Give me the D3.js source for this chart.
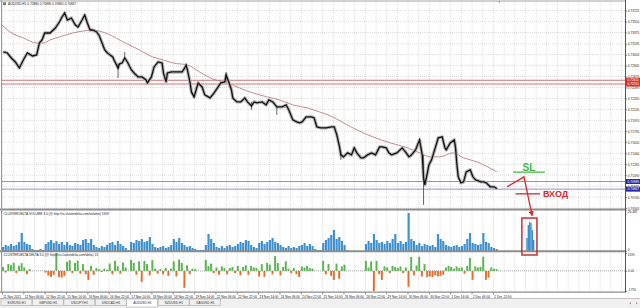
<!DOCTYPE html>
<html>
<head>
<meta charset="utf-8">
<script src="https://cdn.jsdelivr.net/npm/d3@7"></script>
<style>
  body { margin: 0; background: #fff; }
  svg { display: block; font-family: "Liberation Sans", Arial, sans-serif; }
</style>
</head>
<body>
<script>
// ---- data (AUDUSD H1) ----
var priceTicks = [0.73725, 0.73550, 0.73375, 0.73195, 0.73020, 0.72845, 0.72670, 0.72495, 0.72320, 0.72145,
    0.71970, 0.71795, 0.71620, 0.71440, 0.71265, 0.71090, 0.70915, 0.70740, 0.70565];
var timeLabels = ["11 Nov 2021", "12 Nov 06:00", "12 Nov 22:00", "15 Nov 14:00", "16 Nov 06:00", "16 Nov 22:00",
    "17 Nov 14:00", "18 Nov 06:00", "18 Nov 22:00", "19 Nov 14:00", "22 Nov 06:00", "22 Nov 22:00",
    "23 Nov 14:00", "24 Nov 06:00", "24 Nov 22:00", "25 Nov 14:00", "26 Nov 06:00", "26 Nov 22:00",
    "29 Nov 14:00", "30 Nov 06:00", "30 Nov 22:00", "1 Dec 14:00", "2 Dec 06:00", "2 Dec 22:00"];

// close path (bar index, price)
var priceBars = [1,4,7,10,13,16,19,23,26,28,30,32,36,40,43,45,47,49,52,55,57,60,62,64,66,68,71,73,75,77,79,81,83,84,87,88,90,92,94,97,99,
    102,105,108,109,112,114,117,120,121,123,124,127,131,135,137,138,139,141,142,144,147,150,152,156,159,162,164,167,168,170,172,173,176,179,
    182,184,187,189,191,195,198,200,203,206,210,213,215,218,221,223,225,228,232,234,236,239,243,247,249,251,253,254,256,259,262,264,266,269,
    271,274,277,280,283,285,288,290,292,296,300,303,305,307,310,313,315,316,317,319,320,322,325,327,330,332,333,336,339,340,341,342,344,346,
    348,351,353,355,359,361,363,366,369,371];
var priceClose = [0.73064,0.73048,0.72968,0.72904,0.72808,0.72936,0.73048,0.73000,0.73016,0.73208,0.73256,0.73368,0.73368,0.73448,0.73544,
    0.73624,0.73688,0.73576,0.73608,0.73496,0.73464,0.73576,0.73656,0.73528,0.73416,0.73416,0.73384,0.73320,0.73208,0.73096,0.73048,0.73016,
    0.72984,0.72936,0.72808,0.72872,0.72888,0.72968,0.72904,0.72776,0.72728,0.72664,0.72664,0.72616,0.72568,0.72664,0.72824,0.72904,0.72888,
    0.72728,0.72584,0.72728,0.72744,0.72744,0.72744,0.72808,0.72856,0.72776,0.72568,0.72424,0.72344,0.72568,0.72504,0.72376,0.72328,0.72408,
    0.72504,0.72568,0.72584,0.72696,0.72584,0.72456,0.72328,0.72264,0.72264,0.72328,0.72264,0.72200,0.72264,0.72248,0.72264,0.72216,0.72296,
    0.72264,0.72184,0.72184,0.72216,0.72136,0.71976,0.71944,0.71928,0.71944,0.72024,0.72024,0.72008,0.71864,0.71848,0.71848,0.71864,0.71864,
    0.71736,0.71544,0.71416,0.71384,0.71448,0.71416,0.71528,0.71448,0.71368,0.71368,0.71416,0.71448,0.71416,0.71544,0.71544,0.71528,0.71448,
    0.71416,0.71448,0.71528,0.71448,0.71384,0.71416,0.71496,0.71656,0.71416,0.71048,0.70936,0.71144,0.71256,0.71336,0.71544,0.71688,0.71704,
    0.71528,0.71496,0.71608,0.71656,0.71528,0.71256,0.71064,0.70968,0.70984,0.71144,0.71176,0.71064,0.71016,0.70984,0.70984,0.70968,0.70904,
    0.70904,0.70872];

// long wicks visible on the chart
var wickBars = [87, 92, 168, 187, 206, 254, 316];
var wickHigh = [0.72872, 0.73064, 0.72744, 0.72264, 0.72184, 0.71448, 0.71416];
var wickLow = [0.72648, 0.72968, 0.72584, 0.72136, 0.72056, 0.71336, 0.70616];

// moving average
var maBars = [0,6,16,26,31,36,43,53,61,68,73,81,91,103,113,121,128,139,148,158,169,178,188,199,208,218,229,238,248,256,266,278,291,304,313,
    321,328,338,346,356,364,371];
var maValues = [0.73496,0.73384,0.73288,0.73208,0.73208,0.73256,0.73304,0.73368,0.73400,0.73416,0.73400,0.73336,0.73224,0.73096,0.72984,
    0.72936,0.72888,0.72856,0.72744,0.72632,0.72568,0.72488,0.72408,0.72344,0.72296,0.72216,0.72168,0.72104,0.72024,0.71928,0.71816,0.71704,
    0.71608,0.71528,0.71448,0.71384,0.71384,0.71448,0.71368,0.71304,0.71224,0.71144];

var redLevels = [0.72611, 0.72551];
var blueLevels = [0.70989, 0.70867];

// ClusterDelta volume, one value per 2 H1 bars
var volume = [2580,3880,3230,4520, 3230,3880,5810,11630, 5810,4520,3880,1290, 650,650,1290,650, 4520,5810,7110,5170,
    6460,4520,5810,3880, 5810,3880,3230,5170, 4520,3880,7110,7750, 5170,7750,3880,2580, 1940,3230,2580,3880,
    5170,5810,3880,6460, 4520,3230,1940,650, 5810,5170,7110,6460, 7750,5810,6460,9040, 4520,2580,1940,2580,
    3230,1940,2580,3880, 7750,5810,8400,5170, 3880,2580,3230,1940, 1290,650,650,650, 3880,10980,7750,5170,
    2580,1940,3230,1940, 3230,3880,2580,3230, 4520,5810,5170,7110, 6460,3880,2580,1940, 5170,6460,4520,5810,
    7110,8400,5810,5170, 3880,2580,1940,3230, 1940,2580,1940,3230, 3880,5170,3230,4520, 3230,1290,650,650,
    5170,7110,8400,10340, 13570,7750,9040,6460, 3880,650,0,0, 0,0,0,0, 4520,6460,5170,10980,
    7110,5170,5810,4520, 6460,5170,7750,10980, 5170,6460,4520,5810, 24550,7750,6460,3880, 5170,3230,4520,3880,
    3230,3880,2580,10980, 7750,6460,3880,3230, 2580,3230,3880,2580, 3230,4520,7750,11630, 5170,4520,3880,4520,
    11630,5810,5170,2580, 1940,1290];

// ClusterDelta delta, one value per 2 H1 bars
var delta = [350,-150,620,500, 720,-200,450,680, 300,-280,150,0, 0,0,0,0, -150,-420,-530,-350,
    1590,-560,-600,-450, 800,950,-200,700, 900,-250,600,-300, -800,450,-350,250, 150,-100,200,100,
    650,-300,900,400, -250,750,300,0, 980,700,-350,850, -980,880,600,-400, 950,200,-250,150,
    -300,250,-450,200, 850,-500,1000,700, -1500,500,-300,200, 150,0,0,0, 980,450,650,-200,
    300,-350,400,250, -300,250,350,-200, 450,-400,350,500, -350,450,300,250, -500,600,-530,700,
    550,-300,1330,700, -400,350,850,200, -200,250,-300,-550, 400,300,450,250, 200,0,0,0,
    890,-300,600,-450, -800,650,-700,400, 550,0,0,0, 0,0,0,0, 890,300,850,-1790,
    890,-300,-800,400, 300,-200,450,350, 250,400,-200,300, -1420,1250,-400,500, 1250,-500,600,-550,
    -500,-550,-400,-500, -450,-350,300,450, 350,200,400,250, 300,-250,450,1160, -800,400,300,350,
    1250,-800,-600,300, 200,150];

// projected volume inside the red box
var entryBars = [393, 394, 395, 396, 397, 398];
var entryVolume = [8400, 16800, 18700, 18100, 13600, 7100];

var tabs = ["EURUSD,H1", "GBPUSD,H1", "USDJPY,H1", "USDCAD,H1", "AUDUSD,H1", "NZDUSD,H1", "XAGUSD,H1"];

// ---- layout ----
var width = 640, height = 308;
var plot = {left: 2, right: 625};
var font = 3.2;

const svg = d3.select("body")
    .append("svg")
    .attr("width", width)
    .attr("height", height);

var x = d3.scaleLinear().domain([0, 467]).range([plot.left, plot.right]);
var yPrice = d3.scaleLinear().domain([0.70565, 0.73725]).range([208, 10.7]);
var yVol = d3.scaleLinear().domain([0, 26487]).range([251, 210]);
var yDelta = d3.scaleLinear().domain([-1792, 1591]).range([291, 253]);

var step = x(2) - x(0);

// grid
var gridBars = d3.range(0, 467, 8);
var panes = [[2, 208.5], [210.5, 250.5], [252.5, 291.5]];
panes.forEach(p => {
    svg.append("g").selectAll("line")
        .data(gridBars).join("line")
        .attr("x1", d => x(d) + 0.5).attr("x2", d => x(d) + 0.5)
        .attr("y1", p[0]).attr("y2", p[1])
        .attr("stroke", "#cfcfcf").attr("stroke-width", 0.7)
        .attr("stroke-dasharray", "1,1");
});
svg.append("g").selectAll("line")
    .data(priceTicks).join("line")
    .attr("x1", plot.left).attr("x2", plot.right)
    .attr("y1", d => yPrice(d)).attr("y2", d => yPrice(d))
    .attr("stroke", "#cfcfcf").attr("stroke-width", 0.7)
    .attr("stroke-dasharray", "1,1");

// horizontal levels
svg.append("g").selectAll("line")
    .data(redLevels).join("line")
    .attr("x1", plot.left).attr("x2", plot.right)
    .attr("y1", d => yPrice(d)).attr("y2", d => yPrice(d))
    .attr("stroke", "#c86464").attr("stroke-width", 0.9);
svg.append("g").selectAll("line")
    .data(blueLevels).join("line")
    .attr("x1", plot.left).attr("x2", plot.right)
    .attr("y1", d => yPrice(d)).attr("y2", d => yPrice(d))
    .attr("stroke", "#8585c2").attr("stroke-width", 0.9);

// moving average
var maLine = d3.line()
    .x((d, i) => x(maBars[i]))
    .y(d => yPrice(d))
    .curve(d3.curveMonotoneX);
svg.append("path")
    .datum(maValues)
    .attr("fill", "none")
    .attr("stroke", "#b98080")
    .attr("stroke-width", 0.9)
    .attr("d", maLine);

// price: gray wick haze, spikes, black body line
var priceLine = d3.line()
    .x((d, i) => x(priceBars[i]))
    .y(d => yPrice(d));
svg.append("path")
    .datum(priceClose)
    .attr("fill", "none")
    .attr("stroke", "#b4b4b4")
    .attr("stroke-width", 3.4)
    .attr("stroke-linejoin", "round")
    .attr("d", priceLine);
svg.append("g").selectAll("line")
    .data(wickBars).join("line")
    .attr("x1", d => x(d)).attr("x2", d => x(d))
    .attr("y1", (d, i) => yPrice(wickHigh[i])).attr("y2", (d, i) => yPrice(wickLow[i]))
    .attr("stroke", "#555").attr("stroke-width", 0.9);
svg.append("path")
    .datum(priceClose)
    .attr("fill", "none")
    .attr("stroke", "#111")
    .attr("stroke-width", 1.3)
    .attr("stroke-linejoin", "miter")
    .attr("d", priceLine);

// volume histogram
svg.append("g").selectAll("rect")
    .data(volume).join("rect")
    .attr("x", (d, i) => x(2 * i))
    .attr("width", step - 0.5)
    .attr("y", d => yVol(d))
    .attr("height", d => yVol(0) - yVol(d))
    .attr("fill", "#3f90cf");
svg.append("g").selectAll("rect")
    .data(entryVolume).join("rect")
    .attr("x", (d, i) => x(entryBars[i]))
    .attr("width", x(1) - x(0) + 0.1)
    .attr("y", d => yVol(d))
    .attr("height", d => yVol(0) - yVol(d))
    .attr("fill", "#3f90cf");

// delta histogram
svg.append("line")
    .attr("x1", plot.left).attr("x2", plot.right)
    .attr("y1", yDelta(0)).attr("y2", yDelta(0))
    .attr("stroke", "#8a8a8a").attr("stroke-width", 0.8)
    .attr("stroke-dasharray", "1,1");
svg.append("g").selectAll("rect")
    .data(delta).join("rect")
    .attr("x", (d, i) => x(2 * i))
    .attr("width", step - 0.7)
    .attr("y", d => Math.min(yDelta(d), yDelta(0)))
    .attr("height", d => Math.abs(yDelta(d) - yDelta(0)))
    .attr("fill", d => d >= 0 ? "#5bb450" : "#e0702c");

// pane separators and frame
[[1, 0.8], [209.5, 2], [251.3, 2], [292.2, 1.2]].forEach(s => {
    svg.append("line")
        .attr("x1", 0).attr("x2", plot.right)
        .attr("y1", s[0]).attr("y2", s[0])
        .attr("stroke", "#8c8c8c").attr("stroke-width", s[1]);
});
svg.append("line")
    .attr("x1", plot.left - 0.5).attr("x2", plot.left - 0.5)
    .attr("y1", 0).attr("y2", 292.5)
    .attr("stroke", "#9a9a9a").attr("stroke-width", 1);
svg.append("line")
    .attr("x1", plot.right + 0.5).attr("x2", plot.right + 0.5)
    .attr("y1", 0).attr("y2", 292.5)
    .attr("stroke", "#555").attr("stroke-width", 1);

// chart shift marker
svg.append("path")
    .attr("d", `M${x(372)},1.2 l2,0 l-1,1.8 z`)
    .attr("fill", "#777");

// right price axis
function styleAxis(g) {
    g.select(".domain").remove();
    g.selectAll("text").attr("font-size", font).attr("fill", "#222");
    g.selectAll("line").attr("stroke", "#444").attr("stroke-width", 0.6);
}
svg.append("g")
    .attr("transform", `translate(${plot.right + 0.5},0)`)
    .call(d3.axisRight(yPrice).tickValues(priceTicks).tickFormat(d3.format(".5f")).tickSize(1.5).tickPadding(0.8))
    .call(styleAxis);

// level tags
function tag(val, col, yv) {
    var g = svg.append("g").attr("transform", `translate(${plot.right + 1},${yv})`);
    g.append("rect").attr("x", 0).attr("y", -2.5).attr("width", 14).attr("height", 5).attr("fill", col);
    g.append("text").attr("x", 1.5).attr("y", 1.2).attr("font-size", font)
        .attr("fill", "#fff").text(d3.format(".5f")(val));
}
redLevels.forEach(v => tag(v, "#e2302a", yPrice(v)));
blueLevels.forEach(v => tag(v, "#2828a6", yPrice(v)));

// volume + delta axes
svg.append("g")
    .attr("transform", `translate(${plot.right + 0.5},0)`)
    .call(d3.axisRight(yVol).tickValues([26487, 0]).tickSize(1.5).tickPadding(0.8))
    .call(styleAxis)
    .call(g => g.selectAll("text").attr("dy", (d) => d === 0 ? "-0.3em" : "0.9em"));
svg.append("g")
    .attr("transform", `translate(${plot.right + 0.5},0)`)
    .call(d3.axisRight(yDelta).tickValues([1591, 0, -1792])
        .tickFormat(d => d === 0 ? "0.00" : d).tickSize(1.5).tickPadding(0.8))
    .call(styleAxis)
    .call(g => g.selectAll("text").attr("dy", (d) => d === 1591 ? "0.9em" : (d === 0 ? "0.32em" : "-0.1em")));

// time axis
svg.append("g")
    .attr("transform", "translate(0,292.5)")
    .call(d3.axisBottom(x).tickValues(timeLabels.map((d, i) => i * 16))
        .tickFormat((d, i) => timeLabels[i]).tickSize(2).tickPadding(1.2))
    .call(styleAxis)
    .call(g => g.selectAll("text").attr("text-anchor", "start").attr("dx", 0.8));

// pane titles
svg.append("rect").attr("x", 3).attr("y", 2.2).attr("width", 3).attr("height", 3).attr("fill", "#6a8f6a");
svg.append("text").attr("x", 8).attr("y", 5.2).attr("font-size", font).attr("fill", "#222")
    .text("AUDUSD,H1  0.70880 0.70886 0.70860 0.70867");
svg.append("text").attr("x", 3.5).attr("y", 215.2).attr("font-size", font).attr("fill", "#222")
    .text("CLUSTERDELTA VOLUME 3.0 (@ http://ru.clusterdelta.com/volume) 1909");
svg.append("text").attr("x", 3.5).attr("y", 256.3).attr("font-size", font).attr("fill", "#222")
    .text("CLUSTERDELTA DELTA 3.0 (@ http://ru.clusterdelta.com/delta) 13");

// ---- hand-drawn annotations ----
var red = "#d42a2a", green = "#45b84a";
var slPrice = 0.71139, entryPrice = 0.70792;
svg.append("line")
    .attr("x1", x(383)).attr("x2", x(407))
    .attr("y1", yPrice(slPrice)).attr("y2", yPrice(slPrice))
    .attr("stroke", green).attr("stroke-width", 1.3);
svg.append("text")
    .attr("x", x(395)).attr("y", yPrice(slPrice) - 1.2)
    .attr("text-anchor", "middle")
    .attr("font-size", 10).attr("font-weight", "bold")
    .attr("fill", green).text("SL");

svg.append("defs").append("marker")
    .attr("id", "arrow").attr("viewBox", "0 0 10 10")
    .attr("refX", 8).attr("refY", 5)
    .attr("markerWidth", 4).attr("markerHeight", 4)
    .attr("orient", "auto")
    .append("path").attr("d", "M0,0 L10,5 L0,10 z").attr("fill", red);

svg.append("path")
    .attr("d", `M${x(378.6)},${yPrice(0.70904)} L${x(391.3)},${yPrice(0.71064)} L${x(397.3)},${yVol(23000)}`)
    .attr("fill", "none").attr("stroke", red).attr("stroke-width", 1.3)
    .attr("marker-end", "url(#arrow)");
svg.append("line")
    .attr("x1", x(385)).attr("x2", x(403.3))
    .attr("y1", yPrice(entryPrice)).attr("y2", yPrice(entryPrice))
    .attr("stroke", red).attr("stroke-width", 1.3);
svg.append("text")
    .attr("x", x(405.5)).attr("y", yPrice(entryPrice) + 3.4)
    .attr("font-size", 9).attr("font-weight", "bold")
    .attr("fill", red).text("ВХОД");

svg.append("rect")
    .attr("x", x(389.7)).attr("y", yVol(21300))
    .attr("width", x(401) - x(389.7)).attr("height", yVol(0) + 4 - yVol(21300))
    .attr("fill", "none").attr("stroke", "#c42222").attr("stroke-width", 1.4);

// ---- tab bar ----
svg.append("rect").attr("x", 0).attr("y", 298).attr("width", width).attr("height", 10).attr("fill", "#f0f0f0");
svg.append("line").attr("x1", 0).attr("x2", width).attr("y1", 298.5).attr("y2", 298.5).attr("stroke", "#b5b5b5").attr("stroke-width", 0.8);
var tabX = d3.scaleBand().domain(tabs).range([1, 221]);
var tabG = svg.append("g").selectAll("g").data(tabs).join("g")
    .attr("transform", d => `translate(${tabX(d)},299)`);
tabG.append("rect")
    .attr("width", tabX.bandwidth() - 0.5)
    .attr("height", d => d === "AUDUSD,H1" ? 8 : 6.5)
    .attr("fill", d => d === "AUDUSD,H1" ? "#fff" : "#f0f0f0")
    .attr("stroke", "#a8a8a8").attr("stroke-width", 0.6);
tabG.append("text")
    .attr("x", tabX.bandwidth() / 2).attr("y", 4.5)
    .attr("text-anchor", "middle")
    .attr("font-size", font).attr("fill", "#333")
    .text(d => d);
svg.append("path").attr("d", "M631,302 l-1.6,1.3 l1.6,1.3 z M636,302 l1.6,1.3 l-1.6,1.3 z").attr("fill", "#888");
</script>
</body>
</html>
